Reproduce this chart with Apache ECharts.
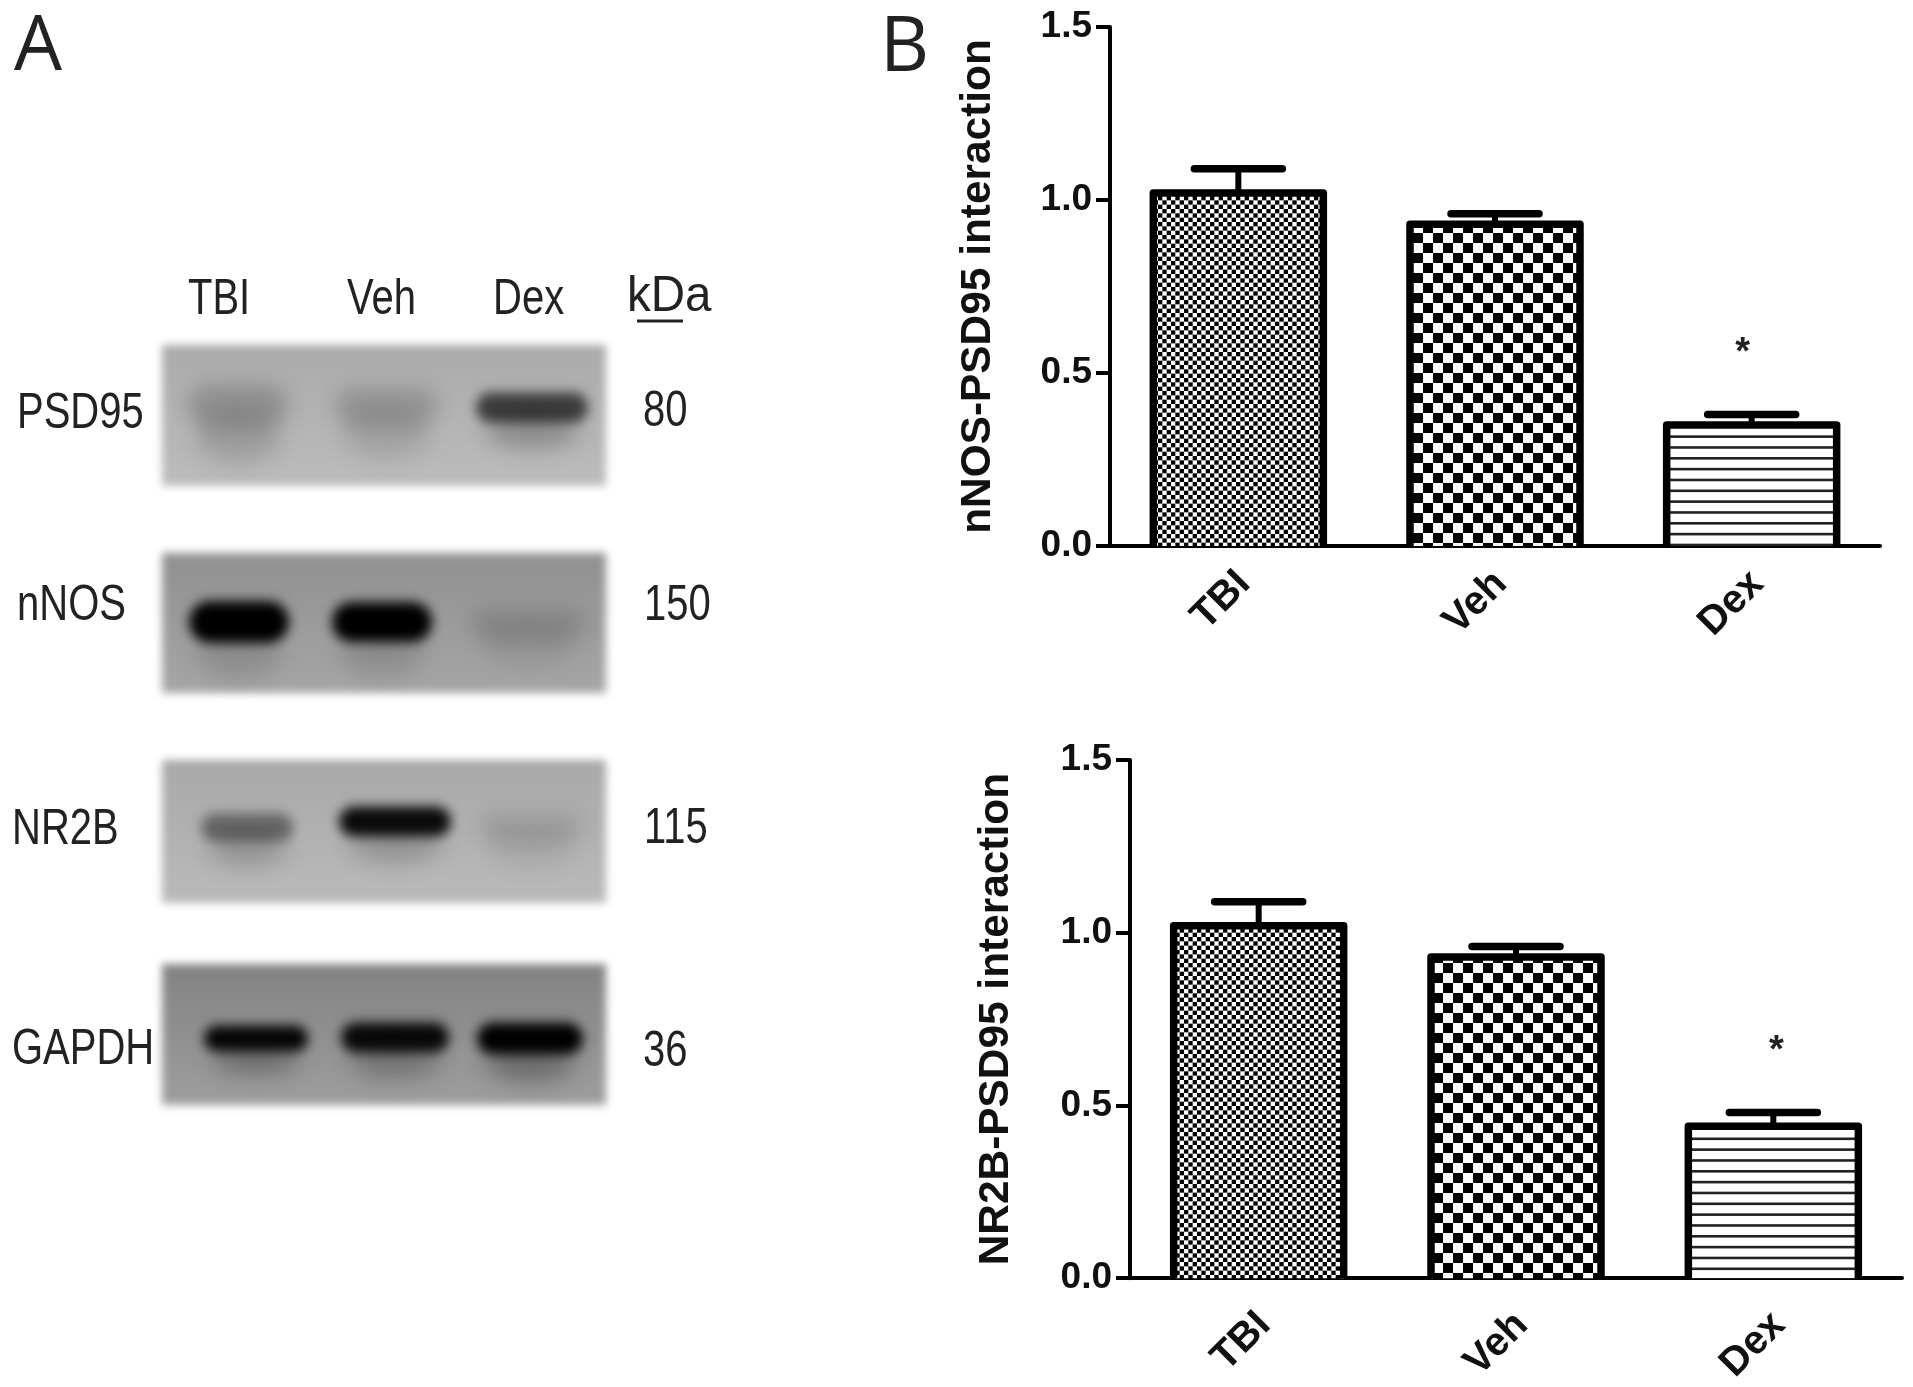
<!DOCTYPE html>
<html>
<head>
<meta charset="utf-8">
<style>
html,body{margin:0;padding:0;background:#fff}
#chart{width:1913px;height:1387px;filter:blur(0.7px)}
</style>
<script src="https://cdn.jsdelivr.net/npm/echarts@6/dist/echarts.min.js"></script>
</head>
<body>
<div id="chart"></div>
<script>
// ---- data ----
const groups = ['TBI', 'Veh', 'Dex'];
const nnosMeans = [1.02, 0.93, 0.35];
const nnosUpper = [1.09, 0.96, 0.38];
const nnosStar = [null, null, 0.555];
const nr2bMeans = [1.02, 0.93, 0.44];
const nr2bUpper = [1.09, 0.96, 0.48];
const nr2bStar = [null, null, 0.655];
const proteins = ['PSD95', 'nNOS', 'NR2B', 'GAPDH'];
const kDa = ['80', '150', '115', '36'];
const bandPSD95 = [0.2, 0.18, 0.66];
const bandNNOS = [1, 1, 0.15];
const bandNR2B = [0.42, 0.94, 0.13];
const bandGAPDH = [0.96, 0.94, 1];
const bandRows = [bandPSD95, bandNNOS, bandNR2B, bandGAPDH];

// ---- appearance of the blots (not data) ----
const blotGrids = [{top:345,height:141},{top:553,height:140},{top:760,height:143},{top:964,height:141}];
const blotShade = [[170,188],[144,166],[168,186],[130,158]];
const bandShape = [
  [{dx:2,dy:-9,w:100,h:42,t:.7},{dx:2,dy:-8,w:102,h:38,t:.6},{dx:0,dy:-8,w:112,h:30,t:.35}],
  [{dx:3,dy:-1,w:100,h:42,t:.12},{dx:-2,dy:-1,w:100,h:40,t:.12},{dx:-4,dy:3,w:112,h:32,t:.4}],
  [{dx:11,dy:-4,w:92,h:28,t:.45},{dx:11,dy:-10,w:112,h:30,t:.2},{dx:-1,dy:-3,w:100,h:28,t:.55}],
  [{dx:20,dy:4,w:104,h:26,t:.28},{dx:11,dy:3,w:108,h:30,t:.24},{dx:-2,dy:4,w:106,h:32,t:.28}]
];

// ---- sprite and pattern helpers ----
function bandSprite(intensity, w, h, tail) {
  const pad = 36, c = document.createElement('canvas');
  c.width = w + pad * 2; c.height = h * 2.4 + pad * 2;
  const x = c.getContext('2d');
  x.filter = 'blur(' + (intensity < 0.3 ? 10 : 6) + 'px)';
  x.fillStyle = 'rgba(0,0,0,' + intensity + ')';
  x.beginPath(); x.roundRect((c.width - w) / 2, pad, w, h, h / 2); x.fill();
  x.filter = 'blur(11px)';
  x.fillStyle = 'rgba(0,0,0,' + (intensity * tail) + ')';
  x.beginPath(); x.ellipse(c.width / 2, pad + h * 1.25, w * 0.42, h * 0.6, 0, 0, 7); x.fill();
  return {canvas: c, pad};
}
function blotSprite(w, h, a, b) {
  const pad = 24, c = document.createElement('canvas');
  c.width = w + pad * 2; c.height = h + pad * 2;
  const x = c.getContext('2d');
  x.filter = 'blur(4.5px)';
  const g = x.createLinearGradient(0, pad, 0, pad + h);
  g.addColorStop(0, 'rgb(' + a + ',' + a + ',' + a + ')');
  g.addColorStop(1, 'rgb(' + b + ',' + b + ',' + b + ')');
  x.fillStyle = g; x.fillRect(pad, pad, w, h);
  return {canvas: c, pad};
}
function checker(cell, periods, phaseX, phaseY) {
  const s = Math.round(cell * 2 * periods), k = s / (periods * 2);
  const c = document.createElement('canvas'); c.width = c.height = s;
  const x = c.getContext('2d');
  x.fillStyle = '#fff'; x.fillRect(0, 0, s, s);
  x.fillStyle = '#000';
  for (let i = -1; i < periods * 2 + 1; i++) for (let j = -1; j < periods * 2 + 1; j++) {
    if ((i + j + 400) % 2 === 0) x.fillRect(i * k + phaseX, j * k + phaseY, k, k);
  }
  return {image: c, repeat: 'repeat'};
}
function stripes(period, count, thick, phase) {
  const s = Math.round(period * count), k = s / count;
  const c = document.createElement('canvas'); c.width = 8; c.height = s;
  const x = c.getContext('2d');
  x.fillStyle = '#fff'; x.fillRect(0, 0, 8, s);
  x.fillStyle = '#222';
  for (let i = -1; i <= count; i++) x.fillRect(0, i * k + phase, 8, thick);
  return {image: c, repeat: 'repeat'};
}

// ---- build ----
const font = '"Liberation Sans", Arial, sans-serif';
const charts = [
  {name:'nNOS-PSD95 interaction', means:nnosMeans, upper:nnosUpper, star:nnosStar, grid:{left:1110,top:27,width:770,height:519}, nameGap:111, labelMargin:9, starDx:-9, stripePhase:2},
  {name:'NR2B-PSD95 interaction', means:nr2bMeans, upper:nr2bUpper, star:nr2bStar, grid:{left:1130,top:760,width:772,height:520}, nameGap:113, labelMargin:18, starDx:3, stripePhase:0}
];
const grids = [], xAxes = [], yAxes = [], series = [];

charts.forEach((ch, idx) => {
  grids.push(ch.grid);
  xAxes.push({
    type:'category', gridIndex:idx, data:groups,
    axisLine:{lineStyle:{color:'#000',width:4}},
    axisTick:{length:15,alignWithLabel:true,lineStyle:{color:'#000',width:4}},
    axisLabel:{rotate:45,margin:ch.labelMargin,padding:[0,12,0,0],color:'#111',fontFamily:font,fontWeight:'bold',fontSize:40,interval:0,align:'right',verticalAlign:'top'}
  });
  yAxes.push({
    type:'value', gridIndex:idx, min:0, max:1.5, interval:0.5,
    name:ch.name, nameLocation:'middle', nameRotate:90, nameGap:ch.nameGap,
    nameTextStyle:{color:'#111',fontFamily:font,fontWeight:'bold',fontSize:42.4},
    axisLine:{show:true,lineStyle:{color:'#000',width:4}},
    axisTick:{show:true,length:14,lineStyle:{color:'#000',width:4}},
    axisLabel:{margin:18,color:'#111',fontFamily:font,fontWeight:'bold',fontSize:37,formatter:v => v.toFixed(1)},
    splitLine:{show:false}
  });
  const fills = [checker(4.35, 3, 1, 1), checker(10.1, 2, 3, 3), stripes(10.83, 6, 2.6, ch.stripePhase)];
  series.push({
    type:'bar', xAxisIndex:idx, yAxisIndex:idx, barWidth:170, silent:true, animation:false,
    data:ch.means.map((v, i) => ({value:v, itemStyle:{color:fills[i]}}))
  });
  series.push({
    type:'custom', xAxisIndex:idx, yAxisIndex:idx, silent:true, animation:false, z:5,
    data:ch.means.map((v, i) => [i, v, ch.upper[i], ch.star[i]]),
    encode:{x:0,y:[1,2]},
    renderItem:(params, api) => {
      const i = api.value(0), half = 85, capHalf = 44;
      const base = api.coord([i, 0]), top = api.coord([i, api.value(1)]), up = api.coord([i, api.value(2)]);
      const kids = [
        {type:'polyline', shape:{points:[[base[0]-half,base[1]],[base[0]-half,top[1]],[base[0]+half,top[1]],[base[0]+half,base[1]]]},
         style:{stroke:'#000',fill:null,lineWidth:7.5,lineJoin:'round'}},
        {type:'line', shape:{x1:base[0],y1:top[1],x2:base[0],y2:up[1]}, style:{stroke:'#000',lineWidth:6}},
        {type:'line', shape:{x1:base[0]-capHalf,y1:up[1],x2:base[0]+capHalf,y2:up[1]}, style:{stroke:'#000',lineWidth:7.5,lineCap:'round'}}
      ];
      const s = ch.star[i];
      if (s != null) {
        const p = api.coord([i, s]);
        kids.push({type:'text', style:{x:p[0]+ch.starDx,y:p[1],text:'*',font:'bold 38px '+font,fill:'#222',textAlign:'center',textVerticalAlign:'middle'}});
      }
      return {type:'group', children:kids};
    }
  });
});

blotGrids.forEach((g, r) => {
  const idx = grids.length;
  grids.push({left:162, width:444, top:g.top, height:g.height});
  xAxes.push({type:'category', gridIndex:idx, data:groups, show:false});
  yAxes.push({type:'value', gridIndex:idx, min:0, max:1, show:false});
  const bg = blotSprite(444, g.height, blotShade[r][0], blotShade[r][1]);
  series.push({
    type:'custom', xAxisIndex:idx, yAxisIndex:idx, silent:true, animation:false, z:1,
    data:[[0, 0.5]],
    renderItem:(params) => {
      const cs = params.coordSys;
      return {type:'image', style:{image:bg.canvas, x:cs.x-bg.pad, y:cs.y-bg.pad, width:bg.canvas.width, height:bg.canvas.height}};
    }
  });
  const sprites = bandRows[r].map((v, l) => {
    const sh = bandShape[r][l];
    return {s:bandSprite(v, sh.w, sh.h, sh.t), sh};
  });
  series.push({
    type:'custom', xAxisIndex:idx, yAxisIndex:idx, silent:true, animation:false, z:2,
    data:bandRows[r].map((v, l) => [l, 0.5, v]),
    renderItem:(params, api) => {
      const l = api.value(0), p = api.coord([l, 0.5]), o = sprites[l];
      return {type:'image', style:{image:o.s.canvas,
        x:p[0]+o.sh.dx-o.s.canvas.width/2, y:p[1]+o.sh.dy-o.sh.h/2-o.s.pad,
        width:o.s.canvas.width, height:o.s.canvas.height}};
    }
  });
});

// ---- text of panel A ----
function label(text, x, y, scale) {
  return {type:'text', x, y, scaleX:scale || 0.8, z:10, silent:true,
    style:{text, font:'50px '+font, fill:'#222', textAlign:'left', textVerticalAlign:'middle'}};
}
const laneLabelX = [188, 347, 493];
const rowLabelPos = [[17,414],[17,606],[12,830],[12,1050]];
const kdaPos = [[643,412],[644,606],[644,829],[643,1052]];
const graphic = [
  {type:'text', x:14, y:48, z:10, silent:true, style:{text:'A', font:'76px "Open Sans", sans-serif', fill:'#222', textAlign:'left', textVerticalAlign:'middle'}},
  {type:'text', x:880, y:49, z:10, silent:true, style:{text:'B', font:'76px "Open Sans", sans-serif', fill:'#222', textAlign:'left', textVerticalAlign:'middle'}},
  ...groups.map((t, i) => label(t, laneLabelX[i], 300)),
  label('kDa', 627, 297, 0.95),
  {type:'line', z:10, silent:true, shape:{x1:637,y1:321,x2:683,y2:321}, style:{stroke:'#222',lineWidth:3}},
  ...proteins.map((t, i) => label(t, rowLabelPos[i][0], rowLabelPos[i][1])),
  ...kDa.map((t, i) => label(t, kdaPos[i][0], kdaPos[i][1]))
];

const chart = echarts.init(document.getElementById('chart'), null, {renderer:'canvas'});
chart.setOption({backgroundColor:'#fff', animation:false, grid:grids, xAxis:xAxes, yAxis:yAxes, series, graphic});
</script>
</body>
</html>
